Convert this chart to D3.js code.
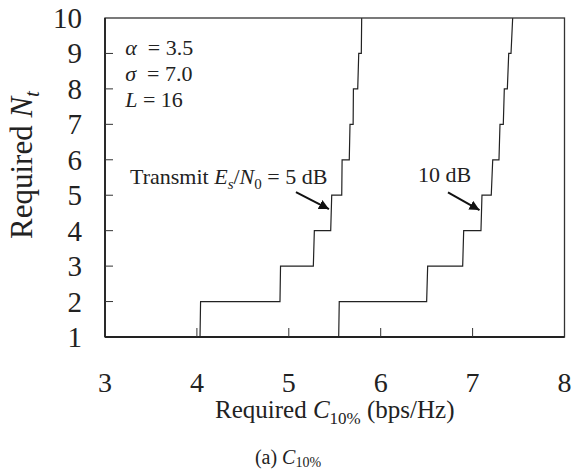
<!DOCTYPE html>
<html>
<head>
<meta charset="utf-8">
<script src="https://cdn.jsdelivr.net/npm/d3@7"></script>
<style>
  body { margin: 0; background: #fff; }
  svg { display: block; }
</style>
</head>
<body>
<svg></svg>
<script>
var width = 572;
var height = 472;

var margin = { left: 105, top: 18, right: 7.5, bottom: 135 };

// tick values
var xTicks = [3, 4, 5, 6, 7, 8];
var yTicks = [1, 2, 3, 4, 5, 6, 7, 8, 9, 10];

// each riser of the staircase: N goes from level to level+1 between [C bottom, C top]
var levels = [1, 2, 3, 4, 5, 6, 7, 8, 9];
var rise5dB = [[4.034, 4.040], [4.904, 4.910], [5.267, 5.278], [5.456, 5.467], [5.576, 5.580],
               [5.658, 5.666], [5.700, 5.703], [5.750, 5.761], [5.789, 5.793]];
var rise10dB = [[5.543, 5.549], [6.500, 6.511], [6.892, 6.903], [7.091, 7.102], [7.203, 7.219],
                [7.287, 7.298], [7.334, 7.345], [7.378, 7.393], [7.418, 7.436]];

var serif = "'Liberation Serif', 'Times New Roman', serif";

var svg = d3.select("svg")
  .attr("width", width)
  .attr("height", height);

// every text gets the serif face inline
function txt(sel, size){
  return sel.append("text")
    .style("font-family", serif)
    .style("font-size", size + "px")
    .style("fill", "#222");
}

var x = d3.scaleLinear()
  .domain([3, 8])
  .range([margin.left, width - margin.right]);

var y = d3.scaleLinear()
  .domain([1, 10])
  .range([height - margin.bottom, margin.top]);

// staircase vertices
function stairs(rise){
  var pts = [];
  levels.forEach(function(n, i){
    pts.push([rise[i][0], n]);
    pts.push([rise[i][1], n + 1]);
  });
  return pts;
}

var line = d3.line()
  .x(d => x(d[0]))
  .y(d => y(d[1]));

[rise5dB, rise10dB].forEach(function(r){
  svg.append("path")
    .attr("d", line(stairs(r)))
    .attr("fill", "none")
    .attr("stroke", "#222")
    .attr("stroke-width", 1.2);
});

// frame
svg.append("rect")
  .attr("x", x(3))
  .attr("y", y(10))
  .attr("width", x(8) - x(3))
  .attr("height", y(1) - y(10))
  .attr("fill", "none")
  .attr("stroke", "#333")
  .attr("stroke-width", 1.3);

svg.append("line")
  .attr("x1", x(3)).attr("x2", x(8))
  .attr("y1", y(1)).attr("y2", y(1))
  .attr("stroke", "#222")
  .attr("stroke-width", 2.2);

svg.append("line")
  .attr("x1", x(3)).attr("x2", x(3))
  .attr("y1", y(1)).attr("y2", y(10))
  .attr("stroke", "#222")
  .attr("stroke-width", 1.8);

// inner ticks
svg.append("g")
  .selectAll("line")
  .data(yTicks.slice(1, -1))
  .enter()
  .append("line")
  .attr("x1", x(3)).attr("x2", x(3) + 8)
  .attr("y1", d => y(d)).attr("y2", d => y(d))
  .attr("stroke", "#333");

svg.append("g")
  .selectAll("line")
  .data(xTicks.slice(1, -1))
  .enter()
  .append("line")
  .attr("x1", d => x(d)).attr("x2", d => x(d))
  .attr("y1", y(1)).attr("y2", y(1) - 9)
  .attr("stroke", "#333");

// tick labels
yTicks.forEach(function(d){
  txt(svg, 29)
    .attr("x", 82)
    .attr("y", y(d) + 10)
    .attr("text-anchor", "end")
    .text(d);
});

xTicks.forEach(function(d){
  txt(svg, 28)
    .attr("x", x(d))
    .attr("y", 392)
    .attr("text-anchor", "middle")
    .text(d);
});

// axis titles
var xTitle = txt(svg, 25)
  .attr("x", (x(3) + x(8)) / 2)
  .attr("y", 418)
  .attr("text-anchor", "middle");
xTitle.append("tspan").text("Required ");
xTitle.append("tspan").style("font-style", "italic").text("C");
xTitle.append("tspan").attr("dy", 6).style("font-size", "17px").text("10%");
xTitle.append("tspan").attr("dy", -6).text(" (bps/Hz)");

var yTitle = txt(svg, 31)
  .attr("transform", "translate(32,165) rotate(-90)")
  .attr("text-anchor", "middle");
yTitle.append("tspan").text("Required ");
yTitle.append("tspan").style("font-style", "italic").text("N");
yTitle.append("tspan").attr("dy", 7).style("font-style", "italic").style("font-size", "21px").text("t");

// parameters
var params = [["\u03b1", "  = 3.5"], ["\u03c3", "  = 7.0"], ["L", " = 16"]];
var paramY = [8.96, 8.22, 7.49];
params.forEach(function(p, i){
  var t = txt(svg, 22)
    .attr("x", x(3.22))
    .attr("y", y(paramY[i]))
    .attr("xml:space", "preserve");
  t.append("tspan").style("font-style", "italic").text(p[0]);
  t.append("tspan").text(p[1]);
});

// annotations
svg.append("defs").append("marker")
  .attr("id", "arrow")
  .attr("viewBox", "0 0 10 10")
  .attr("refX", 10).attr("refY", 5)
  .attr("markerWidth", 5).attr("markerHeight", 5)
  .attr("markerUnits", "strokeWidth")
  .attr("orient", "auto")
  .append("path")
  .attr("d", "M0,0 L10,5 L0,10 z")
  .attr("fill", "#111");

var arrows = [[[5.078, 5.09], [5.437, 4.61]], [[6.732, 5.08], [7.075, 4.58]]];
arrows.forEach(function(a){
  svg.append("line")
    .attr("x1", x(a[0][0])).attr("y1", y(a[0][1]))
    .attr("x2", x(a[1][0])).attr("y2", y(a[1][1]))
    .attr("stroke", "#111")
    .attr("stroke-width", 2)
    .attr("marker-end", "url(#arrow)");
});

var ann = txt(svg, 22)
  .attr("x", x(5.42))
  .attr("y", y(5.32))
  .attr("text-anchor", "end");
ann.append("tspan").text("Transmit ");
ann.append("tspan").style("font-style", "italic").text("E");
ann.append("tspan").attr("dy", 5).style("font-style", "italic").style("font-size", "15px").text("s");
ann.append("tspan").attr("dy", -5).text("/");
ann.append("tspan").style("font-style", "italic").text("N");
ann.append("tspan").attr("dy", 5).style("font-size", "15px").text("0");
ann.append("tspan").attr("dy", -5).text(" = 5 dB");

txt(svg, 22)
  .attr("x", x(6.406))
  .attr("y", y(5.37))
  .text("10 dB");

// caption
var cap = txt(svg, 20)
  .attr("x", 288)
  .attr("y", 464)
  .attr("text-anchor", "middle");
cap.append("tspan").text("(a) ");
cap.append("tspan").style("font-style", "italic").text("C");
cap.append("tspan").attr("dy", 3).style("font-size", "14px").text("10%");
</script>
</body>
</html>
